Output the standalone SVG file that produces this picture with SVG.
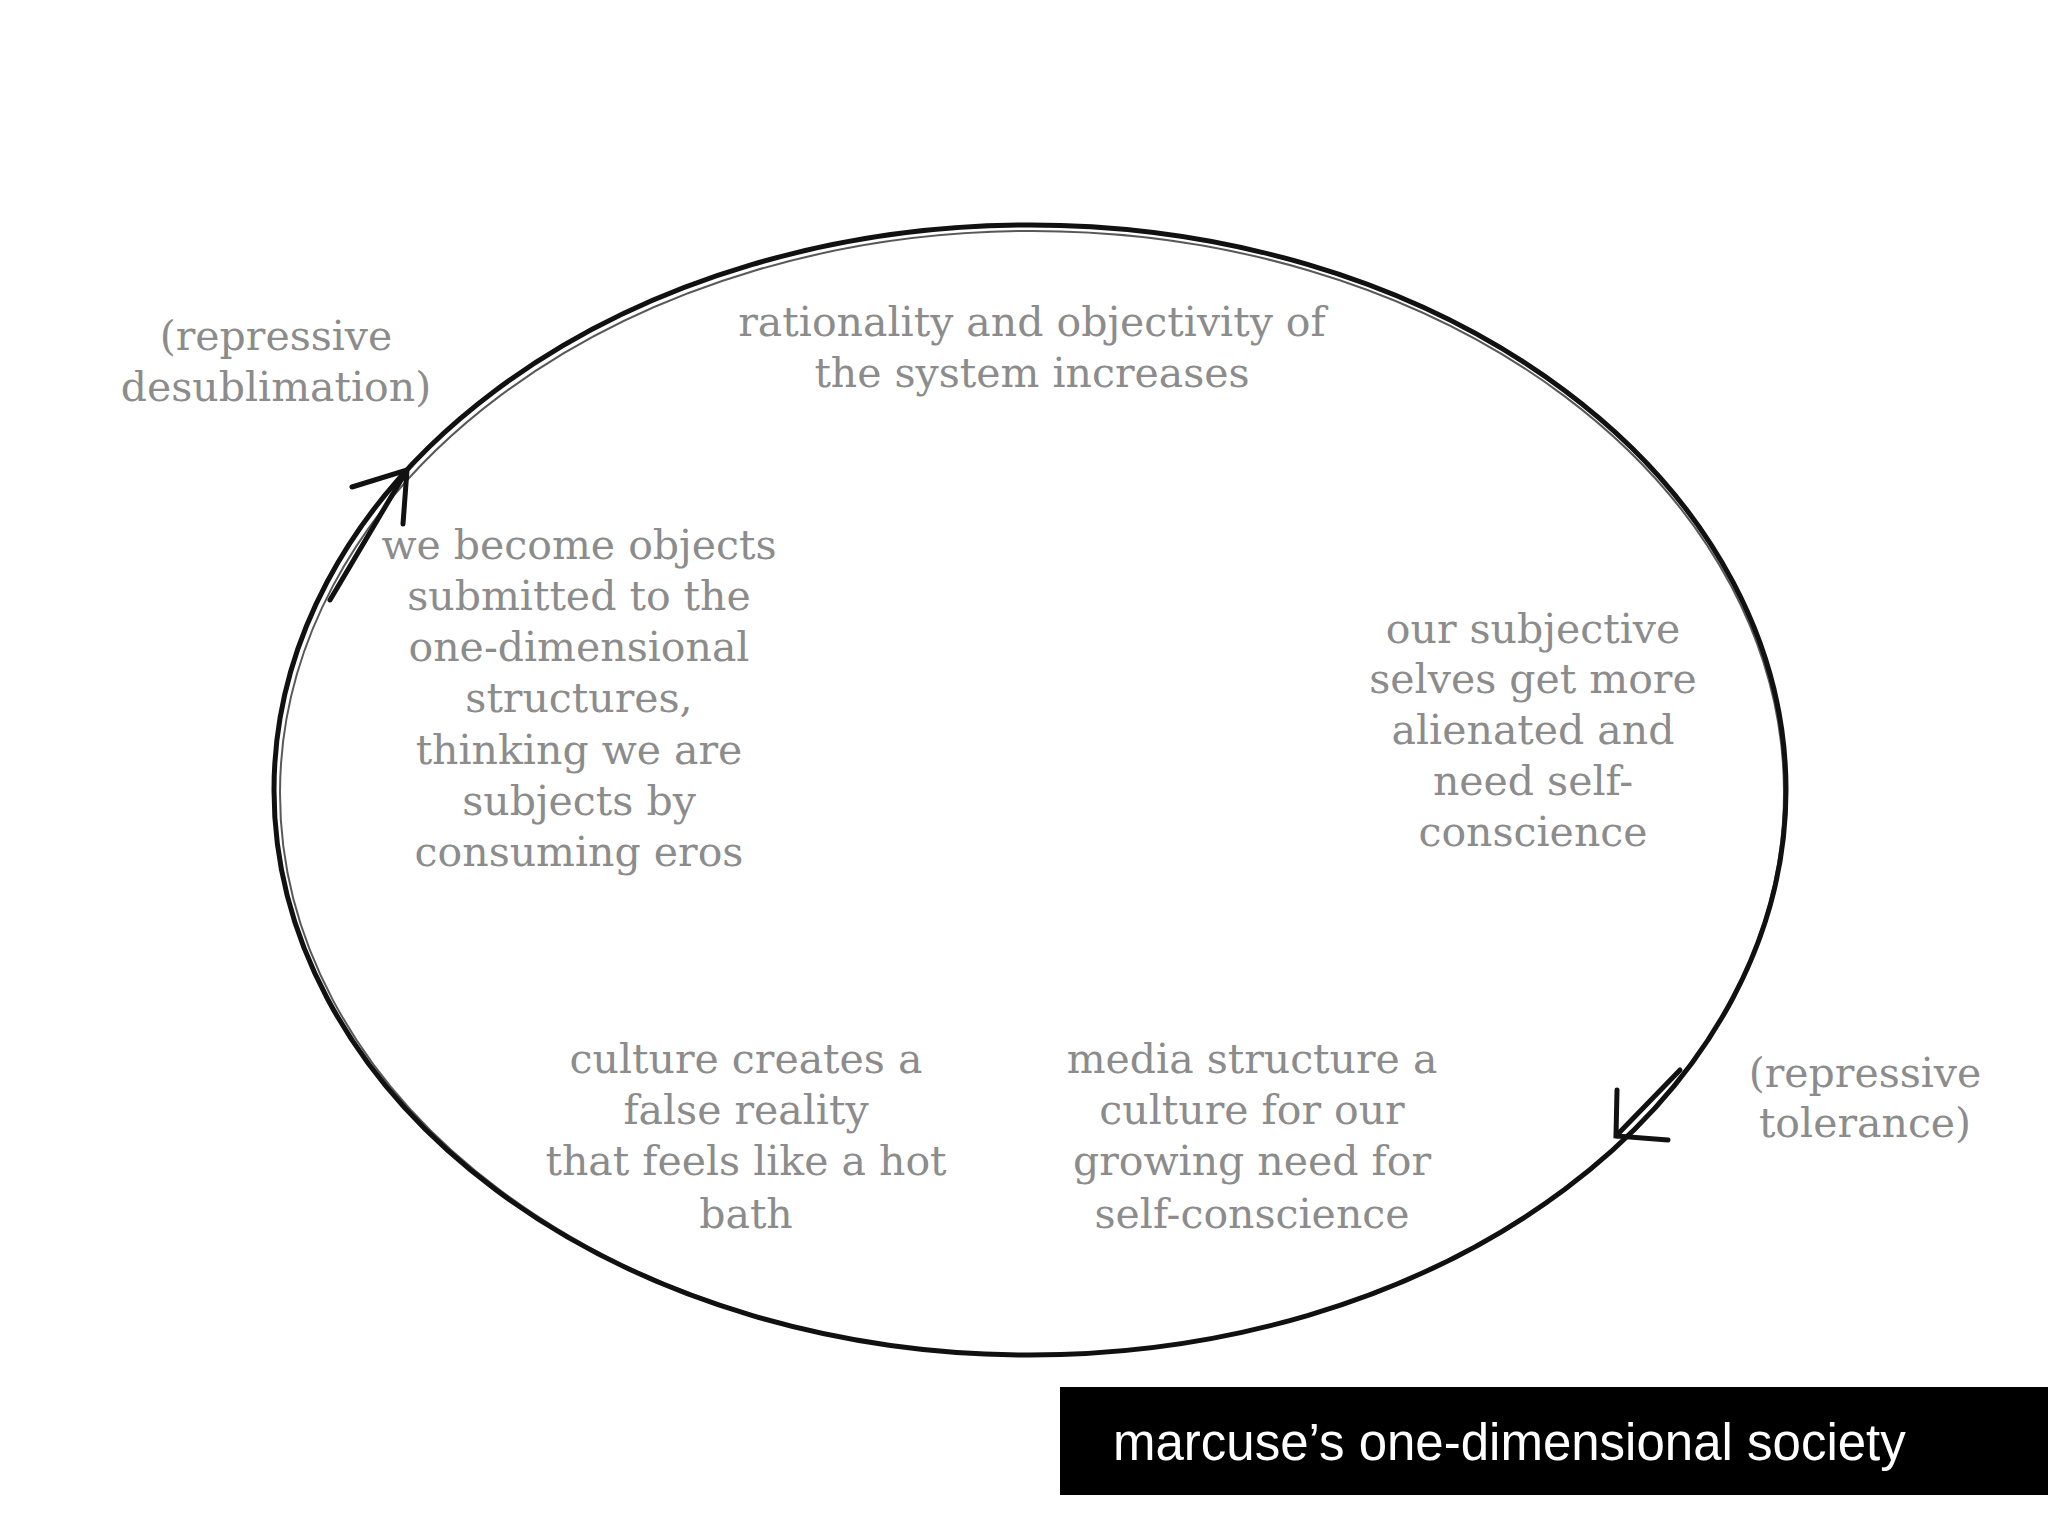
<svg xmlns="http://www.w3.org/2000/svg" width="2048" height="1536" viewBox="0 0 2048 1536">
<style>
.t{font-family:"DejaVu Serif","Liberation Serif",serif;font-size:41px;fill:#8c8c8c;text-anchor:middle}
.c{fill:none;stroke:#111;stroke-linecap:round}
</style>
<rect width="2048" height="1536" fill="#fff"/>
<g id="connectors">
<ellipse class="c" cx="1030" cy="790" rx="756" ry="565" stroke-width="5"/>
<ellipse class="c" cx="1032" cy="793" rx="752" ry="562" stroke-width="2" opacity="0.7"/>
<path class="c" stroke-width="5" d="M352 487 L407 470 L403 524 M407 470 L330 600"/>
<path class="c" stroke-width="5" d="M1617 1090 L1616 1136 L1668 1140 M1616 1136 L1680 1070"/>
</g>
<g id="n1"><text class="t" x="276" y="350">(repressive</text><text class="t" x="276" y="401">desublimation)</text></g>
<g id="n2"><text class="t" x="1032" y="336">rationality and objectivity of</text><text class="t" x="1032" y="387">the system increases</text></g>
<g id="n3"><text class="t" x="579" y="559">we become objects</text><text class="t" x="579" y="610">submitted to the</text><text class="t" x="579" y="661">one-dimensional</text><text class="t" x="579" y="712">structures,</text><text class="t" x="579" y="764">thinking we are</text><text class="t" x="579" y="815">subjects by</text><text class="t" x="579" y="866">consuming eros</text></g>
<g id="n4"><text class="t" x="1533" y="643">our subjective</text><text class="t" x="1533" y="693">selves get more</text><text class="t" x="1533" y="744">alienated and</text><text class="t" x="1533" y="795">need self-</text><text class="t" x="1533" y="846">conscience</text></g>
<g id="n5"><text class="t" x="746" y="1073">culture creates a</text><text class="t" x="746" y="1124">false reality</text><text class="t" x="746" y="1175">that feels like a hot</text><text class="t" x="746" y="1228">bath</text></g>
<g id="n6"><text class="t" x="1252" y="1073">media structure a</text><text class="t" x="1252" y="1124">culture for our</text><text class="t" x="1252" y="1175">growing need for</text><text class="t" x="1252" y="1228">self-conscience</text></g>
<g id="n7"><text class="t" x="1865" y="1087">(repressive</text><text class="t" x="1865" y="1137">tolerance)</text></g>
<g id="title"><rect x="1060" y="1387" width="988" height="108" fill="#000"/><text x="1113" y="1460" font-family="Liberation Sans,Arial,sans-serif" font-size="51" fill="#fff">marcuse’s one-dimensional society</text></g>
</svg>
